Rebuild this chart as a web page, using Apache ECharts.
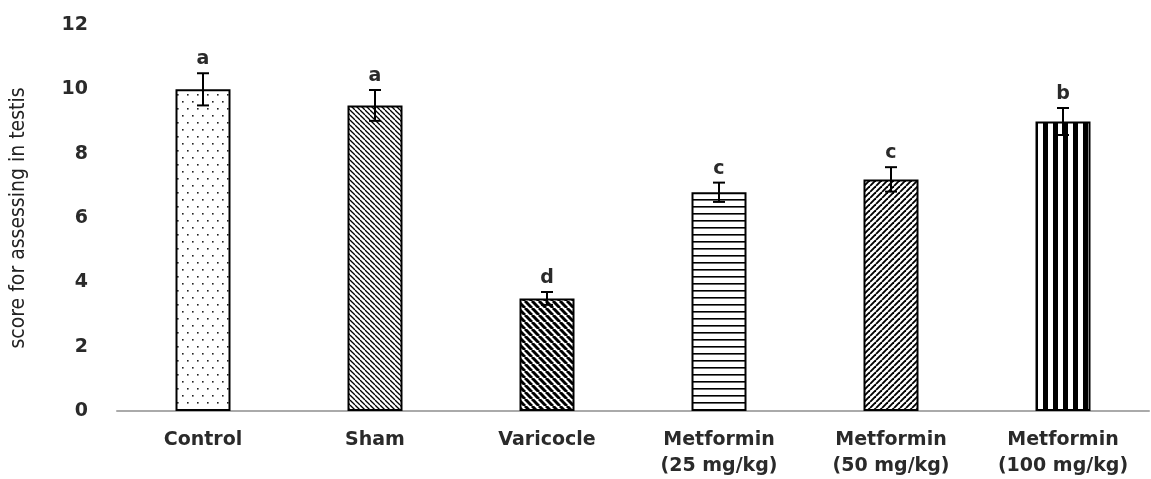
<!DOCTYPE html>
<html><head><meta charset="utf-8">
<script src="https://cdn.jsdelivr.net/npm/echarts@6/dist/echarts.min.js"></script>
<style>html,body{margin:0;padding:0;background:#fff}#c{width:1151px;height:479px}</style>
</head><body><div id="c"></div>
<script>
const categories = ['Control', 'Sham', 'Varicocle', 'Metformin\n(25 mg/kg)', 'Metformin\n(50 mg/kg)', 'Metformin\n(100 mg/kg)'];
const means = [10, 9.5, 3.5, 6.8, 7.2, 9.0];
const errors = [0.5, 0.48, 0.2, 0.3, 0.38, 0.42];
const letters = ['a', 'a', 'd', 'c', 'c', 'b'];
const yTicks = { min: 0, max: 12, interval: 2 };

function pat(w, h, draw) {
  const c = document.createElement('canvas');
  c.width = w; c.height = h;
  const g = c.getContext('2d');
  g.fillStyle = '#fff'; g.fillRect(0, 0, w, h);
  g.strokeStyle = '#000'; g.fillStyle = '#000';
  draw(g, w, h);
  return { image: c, repeat: 'repeat' };
}
function diagDown(s, lw) {
  return pat(s, s, (g) => { g.lineWidth = lw; for (let x0 = -s; x0 <= s; x0 += s) { g.beginPath(); g.moveTo(x0, 0); g.lineTo(x0 + s, s); g.stroke(); } });
}
function diagUp(s, lw) {
  return pat(s, s, (g) => { g.lineWidth = lw; for (let x0 = -s; x0 <= s; x0 += s) { g.beginPath(); g.moveTo(x0, s); g.lineTo(x0 + s, 0); g.stroke(); } });
}
const patterns = [
  pat(10, 14, (g) => { g.fillStyle = '#222'; g.fillRect(2, 3, 1.6, 1.6); g.fillRect(7, 10, 1.6, 1.6); }),
  diagDown(5, 1.3),
  diagDown(7, 3),
  pat(10, 7, (g) => { g.fillRect(0, 3, 10, 1.6); }),
  diagUp(6, 1.9),
  pat(10, 10, (g) => { g.fillRect(3, 0, 5, 10); })
];

const chart = echarts.init(document.getElementById('c'));
chart.setOption({
  animation: false,
  backgroundColor: '#fff',
  grid: { left: 115, right: 2, top: 25, bottom: 66 },
  xAxis: {
    type: 'category', data: categories,
    axisLine: { lineStyle: { color: '#aaa', width: 2 } },
    axisTick: { show: false },
    axisLabel: { interval: 0, fontFamily: 'DejaVu Sans', fontWeight: 'bold', fontSize: 19, lineHeight: 26, color: '#2a2a2a', margin: 16 }
  },
  yAxis: {
    type: 'value', min: yTicks.min, max: yTicks.max, interval: yTicks.interval,
    splitLine: { show: false },
    axisLine: { show: false }, axisTick: { show: false },
    axisLabel: { fontFamily: 'DejaVu Sans', fontWeight: 'bold', fontSize: 19, color: '#2a2a2a', margin: 29 },
    name: 'score for assessing in testis', nameLocation: 'middle', nameRotate: 90, nameGap: 88,
    nameTextStyle: { fontFamily: "'DejaVu Sans Condensed', 'Roboto Condensed', 'Liberation Sans Narrow', sans-serif", fontSize: 21, color: '#222' }
  },
  series: [
    {
      type: 'bar', barWidth: 55,
      data: means.map((v, i) => ({ value: v, itemStyle: { color: patterns[i], borderColor: '#000', borderWidth: 2 } }))
    },
    {
      type: 'custom', z: 5,
      data: means.map((v, i) => [i, v, errors[i]]),
      renderItem: (params, api) => {
        const x = api.value(0), y = api.value(1), e = api.value(2);
        const top = api.coord([x, y + e]);
        const bot = api.coord([x, y - e]);
        const hw = 6;
        const st = { stroke: '#000', lineWidth: 2 };
        return {
          type: 'group', children: [
            { type: 'line', shape: { x1: top[0], y1: top[1], x2: bot[0], y2: bot[1] }, style: st },
            { type: 'line', shape: { x1: top[0] - hw, y1: top[1], x2: top[0] + hw, y2: top[1] }, style: st },
            { type: 'line', shape: { x1: bot[0] - hw, y1: bot[1], x2: bot[0] + hw, y2: bot[1] }, style: st },
            { type: 'text', x: top[0], y: top[1] - 14, style: { text: letters[params.dataIndex], fontFamily: 'DejaVu Sans', fontWeight: 'bold', fontSize: 19, fill: '#2a2a2a', align: 'center', verticalAlign: 'middle' } }
          ]
        };
      }
    }
  ]
});
</script></body></html>
